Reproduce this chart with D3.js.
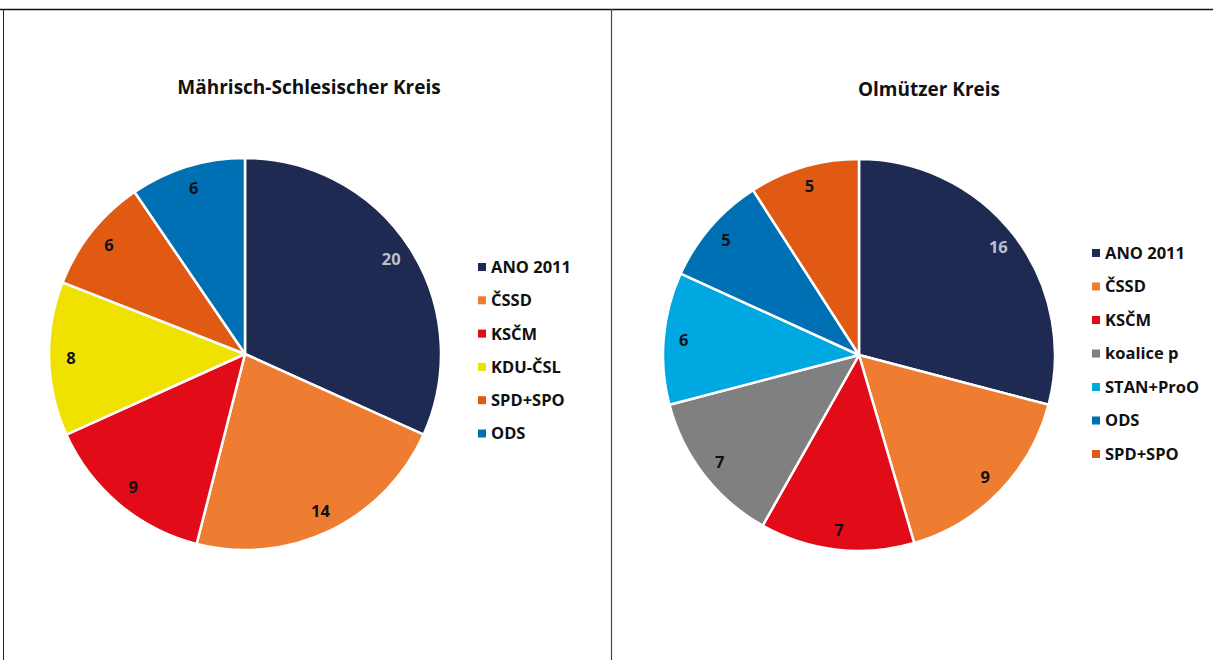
<!DOCTYPE html>
<html>
<head>
<meta charset="utf-8">
<script src="https://cdn.jsdelivr.net/npm/d3@7"></script>
<style>
  body { margin: 0; background: #fff; }
  svg text { font-family: "Open Sans", "DejaVu Sans", sans-serif; font-weight: bold; }
</style>
</head>
<body>
<div id="chart"></div>
<script>
// left chart
var titleLeft   = "Mährisch-Schlesischer Kreis";
var partiesLeft = ["ANO 2011", "ČSSD", "KSČM", "KDU-ČSL", "SPD+SPO", "ODS"];
var seatsLeft   = [20, 14, 9, 8, 6, 6];
var colorsLeft  = ["#1f2a52", "#ef7d31", "#e20b18", "#f0e200", "#e05a14", "#0070b4"];

// right chart
var titleRight   = "Olmützer Kreis";
var partiesRight = ["ANO 2011", "ČSSD", "KSČM", "koalice p", "STAN+ProO", "ODS", "SPD+SPO"];
var seatsRight   = [16, 9, 7, 7, 6, 5, 5];
var colorsRight  = ["#1f2a52", "#ef7d31", "#e20b18", "#808080", "#00a8e2", "#0070b4", "#e05a14"];

var width = 1213, height = 660;

var svg = d3.select("#chart")
  .append("svg")
    .attr("width", width)
    .attr("height", height);

// frame lines
svg.append("line").attr("x1", 0).attr("x2", width).attr("y1", 9.5).attr("y2", 9.5)
  .attr("stroke", "#111").attr("stroke-width", 1.5);
svg.append("line").attr("x1", 3.5).attr("x2", 3.5).attr("y1", 9).attr("y2", height)
  .attr("stroke", "#222").attr("stroke-width", 1);
svg.append("line").attr("x1", 611.5).attr("x2", 611.5).attr("y1", 9).attr("y2", height)
  .attr("stroke", "#444").attr("stroke-width", 1.2);

function drawPie(opt) {
  var g = svg.append("g");

  g.append("text")
    .attr("x", opt.titleX)
    .attr("y", opt.titleY)
    .attr("text-anchor", "middle")
    .style("font-size", "19px")
    .attr("fill", "#111")
    .text(opt.title);

  var data = opt.parties.map(function(p, i) {
    return { name: p, value: opt.values[i], color: opt.colors[i] };
  });

  var pie = d3.pie().sort(null).value(function(d) { return d.value; });
  var arc = d3.arc().innerRadius(0).outerRadius(opt.r);
  var labelArc = d3.arc().innerRadius(opt.labelR).outerRadius(opt.labelR);

  var pg = g.append("g").attr("transform", "translate(" + opt.cx + "," + opt.cy + ")");

  var arcs = pie(data);

  pg.selectAll("path")
    .data(arcs)
    .enter()
    .append("path")
      .attr("d", arc)
      .attr("fill", function(d) { return d.data.color; })
      .attr("stroke", "#fff")
      .attr("stroke-width", 2.5)
      .attr("stroke-linejoin", "round");

  pg.selectAll("text.lbl")
    .data(arcs)
    .enter()
    .append("text")
      .attr("class", "lbl")
      .attr("transform", function(d) { return "translate(" + labelArc.centroid(d) + ")"; })
      .attr("text-anchor", "middle")
      .attr("dy", "0.35em")
      .style("font-size", "16.5px")
      .attr("fill", function(d, i) { return i == 0 ? "#b9c3cf" : "#111"; })
      .text(function(d) { return d.data.value; });

  // legend
  var lg = g.append("g").attr("transform", "translate(" + opt.legX + "," + opt.legY + ")");
  var item = lg.selectAll("g")
    .data(data)
    .enter()
    .append("g")
      .attr("transform", function(d, i) { return "translate(0," + (i * opt.legStep) + ")"; });

  item.append("rect")
    .attr("x", 0).attr("y", -4)
    .attr("width", 8).attr("height", 8)
    .attr("fill", function(d) { return d.color; });

  item.append("text")
    .attr("x", 13)
    .attr("dy", "0.36em")
    .style("font-size", "16.5px")
    .attr("fill", "#111")
    .text(function(d) { return d.name; });
}

drawPie({
  title: titleLeft, parties: partiesLeft, values: seatsLeft, colors: colorsLeft,
  titleX: 309, titleY: 94,
  cx: 245, cy: 354, r: 196, labelR: 174,
  legX: 478, legY: 267, legStep: 33.3
});

drawPie({
  title: titleRight, parties: partiesRight, values: seatsRight, colors: colorsRight,
  titleX: 929, titleY: 96,
  cx: 859, cy: 355, r: 196, labelR: 176,
  legX: 1092, legY: 253, legStep: 33.5
});
</script>
</body>
</html>
